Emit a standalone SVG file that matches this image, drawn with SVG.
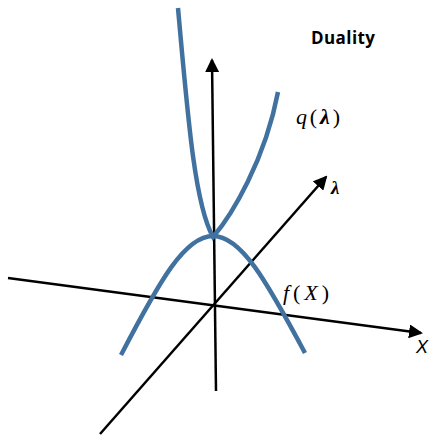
<svg xmlns="http://www.w3.org/2000/svg" width="430" height="435" viewBox="0 0 430 435">
  <style>
    .axis { stroke: #000; stroke-width: 2.5; fill: none; }
    .curve { stroke: #41729F; stroke-width: 4.5; fill: none; stroke-linecap: butt; }
    .math { font-family: "Liberation Serif", "DejaVu Serif", serif; fill: #000; }
    .it { font-style: italic; }
    .title { font-family: "Open Sans", "Liberation Sans", sans-serif; font-weight: bold; font-size: 17px; fill: #000; }
  </style>
  <defs>
    <marker id="arrow" markerWidth="14" markerHeight="14" refX="12" refY="7" orient="auto" markerUnits="userSpaceOnUse">
      <path d="M0,0 L14,7 L0,14 Z" fill="#000"/>
    </marker>
  </defs>
  <rect width="430" height="435" fill="#fff"/>

  <g id="connectors">
    <line id="x-axis" class="axis" x1="8" y1="278" x2="421" y2="333" marker-end="url(#arrow)"/>
    <line id="v-axis" class="axis" x1="216" y1="391" x2="212" y2="60" marker-end="url(#arrow)"/>
    <line id="lambda-axis" class="axis" x1="100" y1="434" x2="326" y2="177" marker-end="url(#arrow)"/>
  </g>

  <g id="curve-f">
    <path class="curve" d="M121,355 C160,280 185,236 213,236 C241,236 266,280 305,353"/>
  </g>
  <g id="curve-q">
    <path class="curve" d="M178,8 C188,120 195,205 213,237 C232,215 265,160 278,92"/>
  </g>

  <g id="labels">
    <text id="title" class="title" x="311" y="44" textLength="64">Duality</text>
    <text id="q-label" class="math" x="296" y="124" font-size="22" textLength="44" lengthAdjust="spacing"><tspan class="it">q</tspan>(<tspan class="it" font-weight="bold">λ</tspan>)</text>
    <text id="f-label" class="math" x="283" y="300" font-size="22" textLength="46" lengthAdjust="spacing"><tspan class="it">f</tspan>(<tspan class="it">X</tspan>)</text>
    <text id="lambda-label" class="math it" x="331" y="194" font-size="19" font-weight="bold">λ</text>
    <text id="x-label" x="416" y="353" font-family="Liberation Sans, Arial, sans-serif" font-style="italic" font-size="18">X</text>
  </g>
</svg>
